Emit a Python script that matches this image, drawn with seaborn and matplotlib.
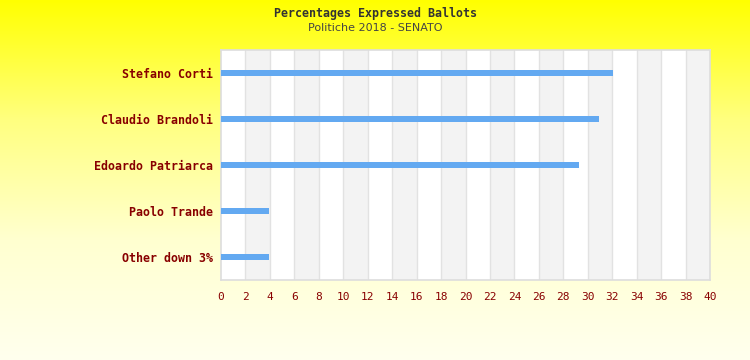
import numpy as np
import pandas as pd
import matplotlib
matplotlib.use("Agg")
import matplotlib.pyplot as plt
from matplotlib.colors import LinearSegmentedColormap
import seaborn as sns

# data
candidates = ["Stefano Corti", "Claudio Brandoli", "Edoardo Patriarca", "Paolo Trande", "Other down 3%"]
percentages = [32.06, 30.92, 29.28, 3.93, 3.93]
x_ticks = list(range(0, 41, 2))

df = pd.DataFrame({"candidate": candidates, "pct": percentages})

sns.set_theme(style="white")
plt.rcParams["font.family"] = ["DejaVu Sans Mono", "DejaVu Sans"]

fig = plt.figure(figsize=(7.5, 3.6), dpi=100)

# background gradient yellow -> pale
bg = fig.add_axes([0, 0, 1, 1], zorder=-10)
grad = np.linspace(0, 1, 256).reshape(-1, 1)
cmap = LinearSegmentedColormap.from_list("bg", ["#ffff00", "#ffff80", "#ffffd0", "#ffffee"])
bg.imshow(grad, aspect="auto", cmap=cmap, extent=[0, 1, 0, 1], origin="upper")
bg.axis("off")

ax = fig.add_axes([221 / 750, 1 - 280 / 360, 489 / 750, 230 / 360])
ax.set_facecolor("white")

# alternating column bands and grid
for x0 in range(2, 40, 4):
    ax.axvspan(x0, x0 + 2, color="#f3f3f3", zorder=0, lw=0)
for x in x_ticks[1:-1]:
    ax.axvline(x, color="#e2e2e2", lw=1, zorder=1)

sns.barplot(data=df, x="pct", y="candidate", orient="h", color="#63a9f1",
            width=0.135, saturation=1, linewidth=0, ax=ax, zorder=3)

ax.set_xlim(0, 40)
ax.set_ylim(4.5, -0.5)
ax.set_xticks(x_ticks)
ax.set_xticklabels([str(t) for t in x_ticks], fontsize=8, color="#880000")
ax.set_yticklabels(candidates, fontsize=8.4, fontweight="bold", color="#880000")
ax.tick_params(axis="x", length=0, pad=9)
ax.tick_params(axis="y", length=0, pad=6)
ax.set_xlabel("")
ax.set_ylabel("")
for s in ax.spines.values():
    s.set_color("#dddddd")
    s.set_linewidth(1.2)

fig.text(0.5, 1 - 13 / 360, "Percentages Expressed Ballots", ha="center", va="center",
         fontsize=8.4, fontweight="bold", color="#333333")
fig.text(0.5, 1 - 28 / 360, "Politiche 2018 - SENATO", ha="center", va="center",
         fontsize=8, color="#444444", family=["DejaVu Sans"])

fig.savefig("out.png", dpi=100)
